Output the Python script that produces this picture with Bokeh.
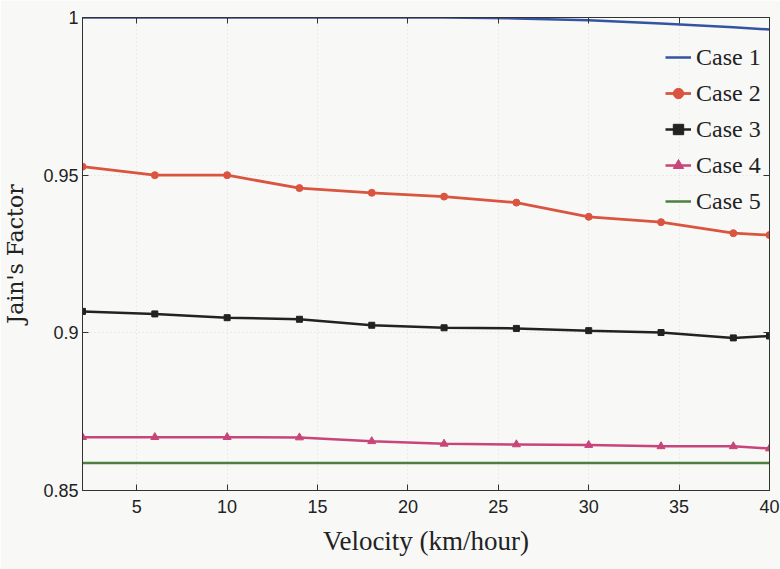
from bokeh.plotting import figure
from bokeh.models import Range1d, LinearAxis, FixedTicker, Legend, LegendItem
from bokeh.embed import file_html
from bokeh.resources import INLINE

velocity = [2, 6, 10, 14, 18, 22, 26, 30, 34, 38, 40]
case1 = [1.0, 1.0, 1.0, 1.0, 1.0, 1.0, 0.9997, 0.9991, 0.9981, 0.9969, 0.9962]
case2 = [0.9527, 0.9500, 0.9500, 0.9459, 0.9444, 0.9432, 0.9413, 0.9368, 0.9351, 0.9316, 0.9310]
case3 = [0.9068, 0.9060, 0.9048, 0.9043, 0.9024, 0.9016, 0.9014, 0.9007, 0.9001, 0.8984, 0.8990]
case4 = [0.8669, 0.8669, 0.8669, 0.8668, 0.8656, 0.8648, 0.8646, 0.8644, 0.8640, 0.8640, 0.8633]
case5 = [0.8587, 0.8587, 0.8587, 0.8587, 0.8587, 0.8587, 0.8587, 0.8587, 0.8587, 0.8587, 0.8587]
labels = ["Case 1", "Case 2", "Case 3", "Case 4", "Case 5"]
x_ticks = [5, 10, 15, 20, 25, 30, 35, 40]
y_ticks = [0.85, 0.9, 0.95, 1.0]
y_tick_labels = ["0.85", "0.9", "0.95", "1"]

BG = "#f8f8f7"
AX = "#333333"

p = figure(width=780, height=569, output_backend="svg", toolbar_location=None,
           x_range=Range1d(2, 40), y_range=Range1d(0.85, 1.0),
           min_border_left=80, min_border_right=11, min_border_top=17, min_border_bottom=79,
           background_fill_color=BG, border_fill_color=BG)
p.outline_line_color = AX
p.outline_line_width = 1

def style_axis(ax, show_labels=True):
    ax.axis_line_color = AX
    ax.major_tick_line_color = AX
    ax.major_tick_in = 6
    ax.major_tick_out = 0
    ax.minor_tick_line_color = None
    ax.major_label_text_font = "Liberation Sans"
    ax.major_label_text_font_size = "18px"
    ax.major_label_text_color = "#222222"
    if not show_labels:
        ax.major_label_text_font_size = "1px"
        ax.major_label_text_alpha = 0
        ax.major_label_standoff = 0

xa = p.xaxis[0]
ya = p.yaxis[0]
xa.ticker = FixedTicker(ticks=x_ticks)
ya.ticker = FixedTicker(ticks=y_ticks)
ya.major_label_overrides = {t: s for t, s in zip(y_ticks, y_tick_labels)}
style_axis(xa)
style_axis(ya)
xa.major_label_standoff = 9
ya.major_label_standoff = 4

xa.axis_label = "Velocity (km/hour)"
xa.axis_label_text_font = "Liberation Serif"
xa.axis_label_text_font_size = "27px"
xa.axis_label_text_font_style = "normal"
xa.axis_label_text_color = "#222222"
xa.axis_label_standoff = 10

ya.axis_label = "Jain's Factor"
ya.axis_label_text_font = "DejaVu Serif"
ya.axis_label_text_font_size = "22px"
ya.axis_label_text_font_style = "normal"
ya.axis_label_text_color = "#222222"
ya.axis_label_standoff = 12

top = LinearAxis(ticker=FixedTicker(ticks=x_ticks))
right = LinearAxis(ticker=FixedTicker(ticks=y_ticks))
style_axis(top, False)
style_axis(right, False)
p.add_layout(top, "above")
p.add_layout(right, "right")

p.xgrid.ticker = FixedTicker(ticks=x_ticks)
p.ygrid.ticker = FixedTicker(ticks=y_ticks)
for g in (p.xgrid[0], p.ygrid[0]):
    g.grid_line_color = "#c0c0c0"
    g.grid_line_dash = "1 3"
    g.grid_line_alpha = 0.5

c_blue = "#3553a3"
c_red = "#d9553f"
c_black = "#222222"
c_pink = "#c8457a"
c_green = "#4d8040"

r1 = p.line(velocity, case1, line_color=c_blue, line_width=2.5)
r2 = p.line(velocity, case2, line_color=c_red, line_width=2.8)
m2 = p.scatter(velocity, case2, marker="circle", size=7, fill_color=c_red, line_color=c_red)
r3 = p.line(velocity, case3, line_color=c_black, line_width=2.5)
m3 = p.scatter(velocity, case3, marker="square", size=6, fill_color=c_black, line_color=c_black)
r4 = p.line(velocity, case4, line_color=c_pink, line_width=2.5)
m4 = p.scatter(velocity, case4, marker="triangle", size=8, fill_color=c_pink, line_color=c_pink)
r5 = p.line(velocity, case5, line_color=c_green, line_width=2.5)

legend = Legend(items=[
    LegendItem(label=labels[0], renderers=[r1]),
    LegendItem(label=labels[1], renderers=[r2, m2]),
    LegendItem(label=labels[2], renderers=[r3, m3]),
    LegendItem(label=labels[3], renderers=[r4, m4]),
    LegendItem(label=labels[4], renderers=[r5]),
], location=(583, 271))
legend.background_fill_alpha = 0
legend.border_line_color = None
legend.padding = 4
legend.spacing = 0
legend.glyph_width = 26
legend.glyph_height = 36
legend.label_height = 36
legend.label_standoff = 5
legend.label_text_font = "Liberation Serif"
legend.label_text_font_size = "24px"
legend.label_text_color = "#222222"
legend.label_text_baseline = "middle"
p.add_layout(legend, "center")

open("out.html", "w").write(file_html(p, INLINE))
